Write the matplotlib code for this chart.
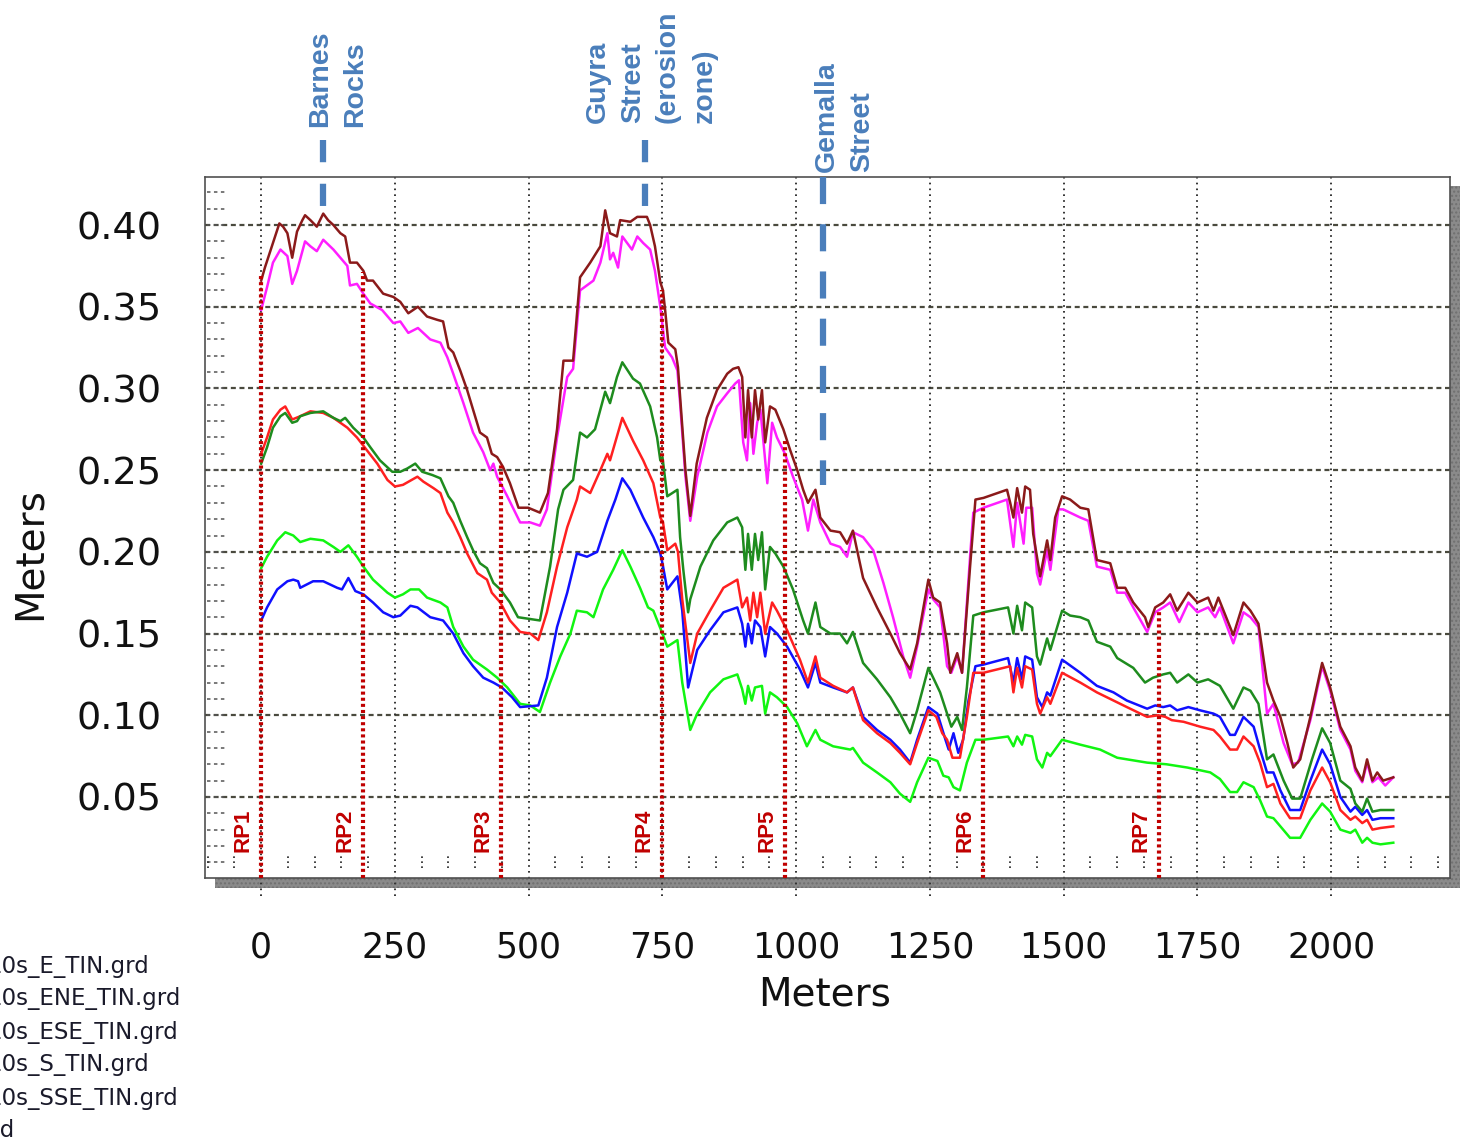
import numpy as np
import matplotlib
matplotlib.use('Agg')
import matplotlib.pyplot as plt
from matplotlib.patches import Rectangle
import matplotlib.transforms as mtransforms

plt.rcParams['lines.scale_dashes'] = False

# ---------------- data (meters along profile, meters) ----------------
brown_x = [0, 7, 26, 34, 41, 49, 58, 67, 77, 82, 92, 104, 116, 125, 135, 148, 157, 166, 179, 191, 198, 209,
           228, 247, 260, 275, 293, 310, 329, 340, 350, 359, 372, 385, 396, 409, 422, 431, 441, 452, 465, 481,
           499, 521, 536, 553, 565, 583, 596, 615, 634, 643, 652, 665, 671, 690, 703, 721, 727, 736, 746, 751,
           755, 761, 774, 779, 783, 793, 802, 814, 833, 852, 871, 882, 892, 899, 905, 910, 917, 923, 929, 936,
           942, 951, 961, 976, 989, 1002, 1013, 1022, 1036, 1045, 1064, 1082, 1095, 1106, 1125, 1151, 1176,
           1194, 1213, 1226, 1247, 1256, 1269, 1282, 1288, 1301, 1310, 1325, 1335, 1350, 1394, 1400, 1406,
           1413, 1422, 1428, 1437, 1443, 1456, 1469, 1475, 1484, 1497, 1512, 1531, 1546, 1562, 1587, 1600,
           1615, 1630, 1652, 1658, 1671, 1686, 1699, 1712, 1733, 1750, 1770, 1780, 1789, 1817, 1836, 1849,
           1864, 1880, 1892, 1905, 1918, 1929, 1942, 1961, 1983, 1998, 2017, 2036, 2045, 2058, 2067, 2077,
           2086, 2097, 2116]
brown_y = [0.366, 0.374, 0.393, 0.401, 0.399, 0.395, 0.380, 0.396, 0.403, 0.406, 0.403, 0.399, 0.407, 0.403,
           0.400, 0.395, 0.393, 0.377, 0.377, 0.372, 0.366, 0.366, 0.358, 0.356, 0.353, 0.346, 0.350, 0.344,
           0.342, 0.341, 0.325, 0.322, 0.311, 0.299, 0.287, 0.273, 0.270, 0.260, 0.258, 0.252, 0.242, 0.227,
           0.227, 0.224, 0.236, 0.275, 0.317, 0.317, 0.368, 0.377, 0.387, 0.409, 0.395, 0.393, 0.403, 0.402,
           0.405, 0.405, 0.400, 0.387, 0.365, 0.360, 0.348, 0.328, 0.324, 0.313, 0.295, 0.250, 0.222, 0.254,
           0.282, 0.299, 0.309, 0.312, 0.313, 0.307, 0.270, 0.299, 0.270, 0.299, 0.281, 0.299, 0.267, 0.289,
           0.287, 0.275, 0.262, 0.250, 0.238, 0.230, 0.238, 0.221, 0.213, 0.212, 0.205, 0.213, 0.184, 0.166,
           0.150, 0.138, 0.128, 0.144, 0.183, 0.172, 0.169, 0.144, 0.126, 0.138, 0.126, 0.191, 0.232, 0.233,
           0.238, 0.230, 0.221, 0.239, 0.224, 0.240, 0.238, 0.211, 0.185, 0.207, 0.195, 0.221, 0.234, 0.232,
           0.227, 0.226, 0.195, 0.193, 0.178, 0.178, 0.169, 0.160, 0.154, 0.166, 0.169, 0.174, 0.164, 0.175,
           0.169, 0.172, 0.164, 0.172, 0.149, 0.169, 0.164, 0.156, 0.120, 0.109, 0.099, 0.083, 0.068, 0.073,
           0.099, 0.132, 0.117, 0.093, 0.081, 0.068, 0.060, 0.073, 0.060, 0.065, 0.060, 0.062]

magenta_x = [0, 11, 22, 36, 49, 58, 67, 82, 92, 104, 116, 135, 148, 161, 166, 179, 191, 204, 226, 247, 260,
             275, 293, 316, 335, 348, 359, 378, 396, 415, 428, 434, 441, 460, 484, 503, 521, 534, 553, 572,
             583, 596, 621, 634, 647, 652, 658, 667, 675, 684, 693, 703, 714, 727, 736, 746, 755, 768, 778,
             783, 793, 802, 815, 834, 852, 871, 886, 893, 901, 908, 914, 920, 927, 933, 938, 946, 955, 964,
             979, 994, 1011, 1022, 1032, 1045, 1064, 1082, 1095, 1106, 1125, 1144, 1163, 1181, 1200, 1213,
             1226, 1247, 1256, 1269, 1282, 1290, 1301, 1310, 1325, 1331, 1350, 1394, 1406, 1413, 1425, 1430,
             1441, 1450, 1456, 1469, 1475, 1490, 1499, 1531, 1546, 1562, 1587, 1600, 1615, 1630, 1656, 1671,
             1686, 1699, 1716, 1733, 1750, 1770, 1783, 1792, 1817, 1836, 1849, 1864, 1880, 1892, 1911, 1927,
             1938, 1961, 1983, 1998, 2017, 2036, 2045, 2058, 2067, 2077, 2088, 2101, 2116]
magenta_y = [0.348, 0.362, 0.377, 0.385, 0.381, 0.364, 0.372, 0.390, 0.387, 0.384, 0.391, 0.385, 0.380,
             0.375, 0.363, 0.364, 0.358, 0.352, 0.348, 0.340, 0.341, 0.334, 0.337, 0.330, 0.328, 0.319, 0.309,
             0.291, 0.273, 0.261, 0.250, 0.254, 0.246, 0.234, 0.218, 0.218, 0.216, 0.226, 0.270, 0.307, 0.312,
             0.360, 0.366, 0.377, 0.395, 0.379, 0.383, 0.374, 0.393, 0.389, 0.385, 0.393, 0.389, 0.385, 0.372,
             0.350, 0.325, 0.319, 0.311, 0.291, 0.246, 0.219, 0.246, 0.273, 0.289, 0.297, 0.303, 0.305, 0.267,
             0.256, 0.291, 0.260, 0.279, 0.287, 0.270, 0.242, 0.279, 0.270, 0.260, 0.246, 0.232, 0.213, 0.232,
             0.218, 0.205, 0.203, 0.197, 0.212, 0.209, 0.201, 0.181, 0.160, 0.136, 0.123, 0.142, 0.177, 0.171,
             0.166, 0.130, 0.126, 0.136, 0.126, 0.197, 0.224, 0.227, 0.232, 0.203, 0.230, 0.205, 0.227, 0.227,
             0.187, 0.180, 0.201, 0.189, 0.226, 0.226, 0.221, 0.219, 0.191, 0.189, 0.175, 0.175, 0.166, 0.151,
             0.163, 0.166, 0.169, 0.157, 0.169, 0.163, 0.166, 0.160, 0.166, 0.144, 0.163, 0.160, 0.154, 0.101,
             0.107, 0.083, 0.070, 0.071, 0.097, 0.130, 0.115, 0.091, 0.079, 0.066, 0.059, 0.071, 0.059, 0.062,
             0.057, 0.062]

dkgreen_x = [0, 11, 22, 36, 45, 58, 67, 73, 92, 116, 135, 148, 157, 172, 191, 204, 222, 245, 260, 273, 288,
             301, 320, 335, 350, 359, 372, 385, 396, 409, 422, 434, 447, 465, 480, 521, 540, 555, 565, 583,
             596, 609, 624, 643, 652, 665, 675, 695, 708, 727, 740, 746, 750, 759, 778, 783, 789, 798, 802,
             821, 845, 871, 890, 899, 905, 910, 917, 923, 929, 936, 942, 951, 961, 976, 994, 1013, 1022, 1036,
             1045, 1064, 1082, 1095, 1106, 1125, 1151, 1176, 1194, 1213, 1226, 1247, 1256, 1269, 1282, 1290,
             1301, 1310, 1319, 1331, 1350, 1396, 1406, 1413, 1422, 1428, 1441, 1450, 1456, 1469, 1475, 1497,
             1512, 1531, 1546, 1562, 1587, 1600, 1615, 1630, 1652, 1667, 1686, 1699, 1712, 1733, 1750, 1770,
             1792, 1817, 1836, 1849, 1864, 1880, 1892, 1911, 1927, 1942, 1964, 1983, 1998, 2017, 2036, 2045,
             2058, 2067, 2077, 2092, 2116]
dkgreen_y = [0.254, 0.264, 0.276, 0.283, 0.285, 0.279, 0.280, 0.283, 0.285, 0.286, 0.282, 0.280, 0.282,
             0.276, 0.270, 0.264, 0.256, 0.249, 0.249, 0.251, 0.254, 0.249, 0.247, 0.245, 0.234, 0.230, 0.219,
             0.209, 0.201, 0.193, 0.190, 0.181, 0.177, 0.169, 0.160, 0.158, 0.191, 0.226, 0.238, 0.244, 0.273,
             0.270, 0.275, 0.298, 0.291, 0.307, 0.316, 0.306, 0.303, 0.289, 0.270, 0.256, 0.258, 0.234, 0.238,
             0.209, 0.189, 0.163, 0.171, 0.191, 0.207, 0.218, 0.221, 0.215, 0.189, 0.211, 0.189, 0.211, 0.195,
             0.212, 0.177, 0.203, 0.199, 0.191, 0.177, 0.158, 0.150, 0.169, 0.154, 0.150, 0.150, 0.144, 0.151,
             0.132, 0.122, 0.111, 0.101, 0.089, 0.103, 0.129, 0.123, 0.114, 0.101, 0.093, 0.099, 0.091, 0.117,
             0.161, 0.163, 0.166, 0.150, 0.167, 0.152, 0.169, 0.166, 0.136, 0.131, 0.147, 0.140, 0.164, 0.161,
             0.160, 0.158, 0.145, 0.142, 0.135, 0.132, 0.129, 0.120, 0.123, 0.125, 0.126, 0.120, 0.125, 0.120,
             0.122, 0.118, 0.104, 0.117, 0.115, 0.107, 0.073, 0.076, 0.060, 0.049, 0.049, 0.073, 0.092, 0.083,
             0.060, 0.055, 0.046, 0.041, 0.049, 0.041, 0.042, 0.042]

red_x = [0, 11, 22, 36, 45, 58, 73, 92, 116, 135, 148, 161, 179, 198, 217, 236, 250, 265, 292, 303, 322, 335,
         348, 359, 372, 385, 404, 422, 431, 447, 465, 484, 503, 518, 534, 553, 572, 590, 596, 615, 634, 647,
         652, 675, 695, 714, 733, 746, 751, 759, 774, 779, 787, 802, 815, 839, 864, 890, 899, 908, 914, 920,
         927, 933, 942, 955, 964, 983, 1007, 1022, 1036, 1045, 1069, 1095, 1106, 1125, 1151, 1176, 1194,
         1213, 1226, 1247, 1262, 1273, 1282, 1292, 1306, 1319, 1331, 1350, 1400, 1406, 1413, 1422, 1428,
         1441, 1450, 1456, 1469, 1475, 1497, 1531, 1562, 1593, 1618, 1656, 1677, 1690, 1702, 1724, 1755,
         1780, 1792, 1811, 1824, 1836, 1855, 1867, 1880, 1892, 1905, 1923, 1942, 1961, 1983, 1998, 2017,
         2036, 2045, 2058, 2067, 2077, 2092, 2116]
red_y = [0.260, 0.270, 0.281, 0.287, 0.289, 0.281, 0.283, 0.286, 0.285, 0.282, 0.279, 0.276, 0.270, 0.262,
         0.254, 0.244, 0.240, 0.241, 0.246, 0.243, 0.239, 0.236, 0.224, 0.218, 0.209, 0.199, 0.187, 0.183,
         0.175, 0.169, 0.158, 0.151, 0.150, 0.146, 0.163, 0.191, 0.215, 0.232, 0.240, 0.236, 0.250, 0.260,
         0.256, 0.282, 0.268, 0.256, 0.242, 0.221, 0.218, 0.201, 0.205, 0.200, 0.171, 0.132, 0.150, 0.164,
         0.178, 0.183, 0.166, 0.172, 0.158, 0.175, 0.160, 0.175, 0.150, 0.169, 0.164, 0.152, 0.134, 0.120,
         0.136, 0.123, 0.118, 0.114, 0.117, 0.097, 0.089, 0.083, 0.077, 0.070, 0.083, 0.103, 0.099, 0.089,
         0.085, 0.074, 0.074, 0.099, 0.126, 0.126, 0.130, 0.114, 0.129, 0.117, 0.130, 0.128, 0.107, 0.101,
         0.111, 0.107, 0.126, 0.120, 0.114, 0.109, 0.105, 0.099, 0.100, 0.099, 0.097, 0.096, 0.093, 0.091,
         0.087, 0.079, 0.079, 0.087, 0.081, 0.071, 0.056, 0.058, 0.046, 0.037, 0.037, 0.054, 0.068, 0.059,
         0.042, 0.036, 0.038, 0.034, 0.036, 0.030, 0.031, 0.032]

blue_x = [0, 11, 30, 49, 60, 69, 73, 97, 116, 142, 151, 163, 176, 191, 209, 228, 247, 260, 279, 292, 316, 340,
          359, 378, 396, 415, 434, 450, 469, 484, 518, 534, 553, 572, 590, 609, 628, 647, 662, 675, 690, 714,
          733, 746, 750, 759, 778, 787, 798, 815, 839, 864, 890, 899, 905, 910, 917, 923, 933, 942, 951, 964,
          983, 1007, 1022, 1036, 1045, 1069, 1095, 1106, 1125, 1151, 1176, 1194, 1213, 1226, 1247, 1264,
          1279, 1285, 1294, 1303, 1312, 1322, 1335, 1350, 1396, 1406, 1413, 1422, 1428, 1441, 1450, 1460,
          1469, 1475, 1497, 1531, 1562, 1593, 1618, 1656, 1671, 1686, 1699, 1712, 1733, 1755, 1780, 1792,
          1811, 1820, 1836, 1855, 1867, 1880, 1892, 1905, 1923, 1942, 1961, 1983, 1998, 2017, 2036, 2045,
          2058, 2067, 2077, 2092, 2116]
blue_y = [0.158, 0.166, 0.177, 0.182, 0.183, 0.182, 0.178, 0.182, 0.182, 0.178, 0.177, 0.184, 0.176, 0.174,
          0.169, 0.163, 0.160, 0.161, 0.167, 0.166, 0.160, 0.158, 0.150, 0.138, 0.130, 0.123, 0.120, 0.117,
          0.111, 0.105, 0.106, 0.123, 0.154, 0.175, 0.199, 0.197, 0.200, 0.219, 0.232, 0.245, 0.238, 0.221,
          0.209, 0.199, 0.193, 0.177, 0.185, 0.164, 0.117, 0.140, 0.152, 0.163, 0.166, 0.156, 0.142, 0.156,
          0.144, 0.158, 0.154, 0.136, 0.154, 0.150, 0.142, 0.128, 0.117, 0.132, 0.120, 0.117, 0.114, 0.117,
          0.099, 0.091, 0.085, 0.079, 0.071, 0.085, 0.105, 0.101, 0.085, 0.079, 0.089, 0.077, 0.085, 0.109,
          0.130, 0.131, 0.135, 0.120, 0.135, 0.122, 0.136, 0.134, 0.111, 0.105, 0.114, 0.112, 0.134, 0.126,
          0.118, 0.114, 0.109, 0.104, 0.106, 0.105, 0.106, 0.103, 0.105, 0.103, 0.101, 0.099, 0.088, 0.088,
          0.099, 0.093, 0.079, 0.065, 0.065, 0.054, 0.042, 0.042, 0.060, 0.079, 0.070, 0.050, 0.041, 0.044,
          0.039, 0.042, 0.036, 0.037, 0.037]

ltgreen_x = [0, 11, 30, 45, 60, 73, 92, 116, 135, 148, 163, 179, 191, 209, 236, 250, 265, 279, 295, 310, 335,
             348, 359, 378, 396, 422, 441, 460, 484, 503, 521, 540, 559, 578, 590, 609, 621, 639, 658, 675,
             690, 708, 723, 733, 750, 759, 778, 787, 802, 815, 839, 864, 890, 899, 905, 910, 917, 923, 936,
             942, 951, 964, 983, 1002, 1020, 1036, 1045, 1069, 1101, 1106, 1125, 1151, 1176, 1194, 1213, 1226,
             1247, 1264, 1275, 1285, 1294, 1306, 1319, 1335, 1350, 1396, 1406, 1413, 1422, 1428, 1441, 1450,
             1460, 1469, 1475, 1497, 1531, 1568, 1600, 1656, 1692, 1731, 1774, 1792, 1811, 1824, 1836, 1855,
             1867, 1880, 1892, 1905, 1923, 1942, 1961, 1983, 1998, 2017, 2036, 2045, 2058, 2067, 2077, 2092,
             2116]
ltgreen_y = [0.190, 0.197, 0.207, 0.212, 0.210, 0.206, 0.208, 0.207, 0.203, 0.200, 0.204, 0.197, 0.191,
             0.183, 0.175, 0.172, 0.174, 0.177, 0.177, 0.172, 0.169, 0.166, 0.154, 0.142, 0.134, 0.128, 0.123,
             0.117, 0.107, 0.106, 0.102, 0.120, 0.136, 0.150, 0.164, 0.163, 0.160, 0.177, 0.189, 0.201, 0.191,
             0.178, 0.166, 0.164, 0.150, 0.142, 0.146, 0.120, 0.091, 0.101, 0.114, 0.122, 0.125, 0.116, 0.107,
             0.118, 0.109, 0.117, 0.118, 0.101, 0.114, 0.111, 0.105, 0.095, 0.081, 0.091, 0.085, 0.081, 0.079,
             0.080, 0.071, 0.065, 0.059, 0.052, 0.047, 0.059, 0.074, 0.072, 0.063, 0.062, 0.056, 0.054, 0.071,
             0.085, 0.085, 0.087, 0.081, 0.087, 0.082, 0.088, 0.087, 0.073, 0.068, 0.077, 0.075, 0.085, 0.082,
             0.079, 0.074, 0.071, 0.070, 0.068, 0.065, 0.061, 0.053, 0.053, 0.059, 0.056, 0.048, 0.038, 0.037,
             0.032, 0.025, 0.025, 0.036, 0.046, 0.041, 0.030, 0.028, 0.030, 0.022, 0.025, 0.022, 0.021, 0.022]

legend_names = ['10s_E_TIN.grd', '10s_ENE_TIN.grd', '10s_ESE_TIN.grd', '10s_S_TIN.grd', '10s_SSE_TIN.grd']
legend_last = 'Legend'

rp_names = ['RP1', 'RP2', 'RP3', 'RP4', 'RP5', 'RP6', 'RP7']
rp_x = [0, 191, 449, 750, 979, 1349, 1678]
rp_top = [0.370, 0.371, 0.254, 0.360, 0.268, 0.230, 0.164]

site_x = [116, 718, 1050]
site_top = [0.452, 0.452, 0.4294]
site_bottom = [0.409, 0.409, 0.241]

x_ticks = [0, 250, 500, 750, 1000, 1250, 1500, 1750, 2000]
y_ticks = [0.05, 0.10, 0.15, 0.20, 0.25, 0.30, 0.35, 0.40]

# ---------------- figure ----------------
W, H = 1461, 1144
fig = plt.figure(figsize=(W / 100, H / 100), dpi=100)
fig.patch.set_facecolor('white')


def fx(px):
    return px / W


def fy(py):
    return 1 - py / H


AX_L, AX_R, AX_T, AX_B = 205, 1450, 177, 878

# drop shadow of the plot frame
shadow = Rectangle((fx(215), fy(888)), fx(1460) - fx(215), fy(186) - fy(888),
                   transform=fig.transFigure, facecolor='#8a8a8a', edgecolor='#707070',
                   hatch='....', lw=0, zorder=-5)
fig.patches.append(shadow)

ax = fig.add_axes([fx(AX_L), fy(AX_B), fx(AX_R) - fx(AX_L), fy(AX_T) - fy(AX_B)])
ax.set_facecolor('white')
ax.set_xlim(-105, 2222)
ax.set_ylim(0.0004, 0.4294)

for s in ax.spines.values():
    s.set_color('#505050')
    s.set_linewidth(1.2)

ax.set_xticks(x_ticks)
ax.set_yticks(y_ticks)
ax.set_xticklabels([str(v) for v in x_ticks])
ax.set_yticklabels(['%.2f' % v for v in y_ticks])
ax.tick_params(axis='both', length=0, colors='#111111')
ax.tick_params(axis='x', labelsize=25, pad=38)
ax.tick_params(axis='y', labelsize=27.5, pad=31)

# grid
for y in y_ticks:
    ax.axhline(y, color='#4a4a3e', lw=1.6, ls=(0, (3.6, 2.6)), zorder=1)
for x in x_ticks:
    ax.axvline(x, ymin=-0.026, ymax=1, color='#333333', lw=1.4, ls=(0, (1.2, 3.0)),
               clip_on=False, zorder=1)

# inner minor tick marks
btrans = mtransforms.blended_transform_factory(ax.transAxes, ax.transData)
for y in np.arange(0.01, 0.425, 0.01):
    ax.plot([0.002, 0.017], [y, y], transform=btrans, color='#555555', lw=1.1,
            ls=(0, (2.5, 2.5)), zorder=1)
ttrans = mtransforms.blended_transform_factory(ax.transData, ax.transAxes)
for x in range(-100, 2201, 50):
    if x % 250 == 0:
        continue
    ax.plot([x, x], [0.014, 0.036], transform=ttrans, color='#333333', lw=1.3,
            ls=(0, (1.2, 2.4)), zorder=1)

# series
ax.plot(ltgreen_x, ltgreen_y, color='#11F511', lw=1.8, zorder=3)
ax.plot(blue_x, blue_y, color='#1010FF', lw=1.8, zorder=3)
ax.plot(red_x, red_y, color='#FF2020', lw=1.8, zorder=3)
ax.plot(dkgreen_x, dkgreen_y, color='#1E8C1E', lw=1.8, zorder=3)
ax.plot(magenta_x, magenta_y, color='#FF1EFF', lw=1.8, zorder=3)
ax.plot(brown_x, brown_y, color='#8B1A1A', lw=1.8, zorder=3)

# reference points
for name, x, top in zip(rp_names, rp_x, rp_top):
    ax.plot([x, x], [0.0004, top], color='#C00000', lw=3.0, ls=(0, (2.2, 2.2)), zorder=4)
    ax.annotate(name, xy=(x, 0.0165), xytext=(-13, 0), textcoords='offset points',
                rotation=90, ha='center', va='bottom', fontsize=16, fontweight='bold',
                color='#C00000', family='Liberation Sans', zorder=5)

# site markers
site_color = '#4A7EBB'
ax.plot([site_x[0]] * 2, [site_top[0], site_bottom[0]], color=site_color, lw=4.5,
        ls=(0, (16, 15.5)), clip_on=False, zorder=4)
ax.plot([site_x[1]] * 2, [site_top[1], site_bottom[1]], color=site_color, lw=4.5,
        ls=(0, (16, 15.5)), clip_on=False, zorder=4)
ax.plot([site_x[2]] * 2, [site_top[2], site_bottom[2]], color=site_color, lw=4.5,
        ls=(0, (19.5, 14.5)), clip_on=False, zorder=4)

site_kw = dict(rotation=90, ha='center', va='bottom', fontsize=20.5, fontweight='bold',
               color=site_color, family='Liberation Sans')
fig.text(fx(320), fy(127), 'Barnes', **site_kw)
fig.text(fx(355), fy(127), 'Rocks', **site_kw)
fig.text(fx(598), fy(123), 'Guyra', **site_kw)
fig.text(fx(633), fy(123), 'Street', **site_kw)
fig.text(fx(668), fy(123), '(erosion', **site_kw)
fig.text(fx(705), fy(123), 'zone)', **site_kw)
fig.text(fx(827), fy(172), 'Gemalla', **site_kw)
fig.text(fx(862), fy(172), 'Street', **site_kw)

# axis labels
fig.text(fx(825), fy(995), 'Meters', ha='center', va='center', fontsize=28, color='#111111')
fig.text(fx(30), fy(554), 'Meters', rotation=90, ha='center', va='center', fontsize=28,
         color='#111111')

# legend text, cut by the left edge of the picture as in the source image
leg_y = [967, 999, 1032, 1065, 1098]
for name, py in zip(legend_names, leg_y):
    fig.text(fx(-13), fy(py), name, ha='left', va='center', fontsize=16.5, color='#1a1a2a')
fig.text(fx(15), fy(1130), legend_last, ha='right', va='center', fontsize=16.5, color='#1a1a2a')

fig.savefig('out.png', dpi=100)
